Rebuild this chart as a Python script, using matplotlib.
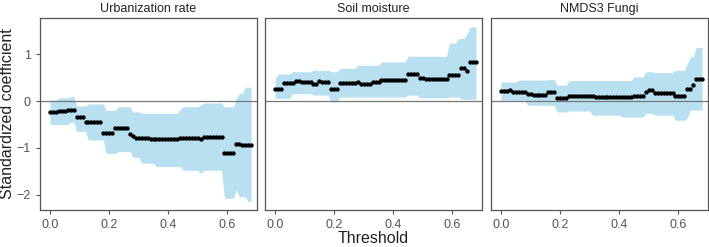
import numpy as np
import matplotlib
matplotlib.use("Agg")
import matplotlib.pyplot as plt

plt.rcParams['font.family'] = ['Liberation Sans', 'DejaVu Sans']

threshold = np.round(np.arange(69) * 0.01, 2)
panels = ["Urbanization rate", "Soil moisture", "NMDS3 Fungi"]

urb_coef = [-0.24]*3 + [-0.21]*3 + [-0.18]*3 + [-0.34]*3 + [-0.45]*6 + [-0.68]*4 + [-0.58]*5 + \
    [-0.70, -0.74] + [-0.78]*5 + [-0.82]*10 + [-0.79]*7 + [-0.81] + [-0.77]*7 + [-1.10]*4 + \
    [-0.91]*2 + [-0.94] + [-0.93]*3
urb_hi = [0.02]*3 + [0.07]*4 + [0.10]*2 + [-0.10]*4 + [-0.06]*6 + [-0.20]*4 + [-0.12]*5 + \
    [-0.23]*3 + [-0.26]*13 + [-0.18] + [-0.12]*6 + [-0.08] + [-0.04]*7 + [-0.12]*4 + [0.06] + \
    [0.16]*2 + [0.30]*3
urb_lo = [-0.50]*7 + [-0.45]*2 + [-0.65]*4 + [-0.83]*6 + [-1.12]*4 + [-1.08]*5 + [-1.20]*3 + \
    [-1.33]*5 + [-1.40]*9 + [-1.48]*6 + [-1.55] + [-1.48]*7 + [-2.08]*4 + [-1.90] + \
    [-2.05]*3 + [-2.15]*2

soil_coef = [0.27]*3 + [0.38]*4 + [0.43]*2 + [0.41]*4 + [0.36]*2 + [0.43] + [0.40]*3 + \
    [0.27]*3 + [0.38]*6 + [0.42] + [0.36]*4 + [0.40]*3 + [0.45]*9 + [0.58]*4 + [0.49]*2 + \
    [0.47]*8 + [0.56]*4 + [0.70]*2 + [0.64] + [0.83]*3
soil_hi = [0.47] + [0.58]*5 + [0.63]*7 + [0.66]*6 + [0.63]*3 + [0.70]*6 + [0.77]*8 + \
    [0.84]*9 + [0.96]*14 + [1.24]*3 + [1.34]*3 + [1.45] + [1.59]*3
soil_lo = [0.06]*6 + [0.16]*7 + [0.13]*6 + [-0.02]*3 + [0.09]*23 + [0.13]*4 + [0.07]*10 + \
    [0.09]*4 + [0.04]*6

fungi_coef = [0.21]*3 + [0.24] + [0.20]*5 + [0.16]*2 + [0.14]*5 + [0.20]*3 + [0.06]*4 + \
    [0.10]*5 + [0.12]*4 + [0.09]*13 + [0.12]*4 + [0.19] + [0.24]*2 + [0.18]*7 + [0.10]*4 + \
    [0.25]*2 + [0.34] + [0.47]*3
fungi_hi = [0.41]*6 + [0.45]*10 + [0.46]*3 + [0.34]*4 + [0.44]*22 + [0.52]*4 + [0.63]*3 + \
    [0.61]*7 + [0.66]*4 + [0.80] + [0.95]*2 + [1.15]*3
fungi_lo = [0.02]*9 + [-0.09]*10 + [-0.23]*4 + [-0.21]*8 + [-0.30]*10 + [-0.34]*8 + \
    [-0.26]*3 + [-0.30]*7 + [-0.41]*4 + [-0.36] + [-0.19]*5

coefs = [urb_coef, soil_coef, fungi_coef]
his = [urb_hi, soil_hi, fungi_hi]
los = [urb_lo, soil_lo, fungi_lo]

fig = plt.figure(figsize=(7.09, 2.47), dpi=100)
lefts = [40, 265, 491]
frame = "#555555"
for i in range(3):
    ax = fig.add_axes([lefts[i] / 709, 1 - 210 / 247, 217 / 709, 192 / 247])
    ax.fill_between(threshold, los[i], his[i], color="#b8e0f1", linewidth=0)
    ax.axhline(0, color="#777777", linewidth=0.9)
    ax.scatter(threshold, coefs[i], s=10, color="black", zorder=3, linewidths=0)
    ax.set_xlim(-0.034, 0.70)
    ax.set_ylim(-2.33, 1.78)
    ax.set_xticks([0.0, 0.2, 0.4, 0.6])
    ax.set_xticklabels(["0.0", "0.2", "0.4", "0.6"])
    ax.set_yticks([-2, -1, 0, 1])
    ax.tick_params(colors=frame, labelcolor="#555555", labelsize=9, length=3, width=0.8)
    for s in ax.spines.values():
        s.set_color(frame)
        s.set_linewidth(0.9)
    ax.set_title(panels[i], fontsize=9, color="#222222", pad=4)
    if i == 0:
        ax.set_ylabel("Standardized coefficient", fontsize=11.5, color="#222222", labelpad=1)
    else:
        ax.tick_params(axis="y", left=False, labelleft=False)
    if i == 1:
        ax.set_xlabel("Threshold", fontsize=11.5, color="#222222", labelpad=0)

fig.savefig("out.png", dpi=100)
